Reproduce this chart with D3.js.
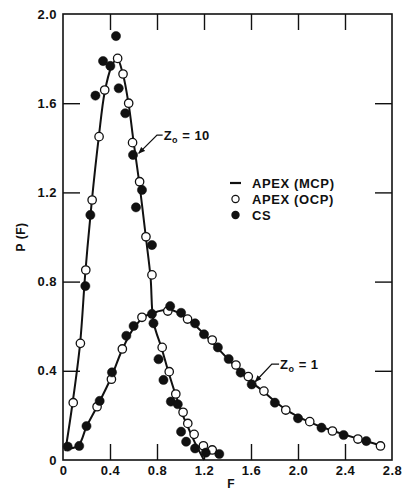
<!DOCTYPE html>
<html>
<head>
<meta charset="utf-8">
<script src="https://cdn.jsdelivr.net/npm/d3@7"></script>
<style>
  html, body { margin: 0; padding: 0; background: #fff; }
  svg { display: block; }
  text { font-family: "Liberation Sans", Arial, sans-serif; font-weight: bold; fill: #111; }
</style>
</head>
<body>
<div id="chart"></div>
<script>
// P(F) distributions

const xTicks = [0, 0.4, 0.8, 1.2, 1.6, 2.0, 2.4, 2.8];
const xTickLabels = ['0', '0.4', '0.8', '1.2', '1.6', '2.0', '2.4', '2.8'];
const yTicks = [0, 0.4, 0.8, 1.2, 1.6, 2.0];
const yTickLabels = ['0', '0.4', '0.8', '1.2', '1.6', '2.0'];

// Zo = 10
const z10Mcp = [[0.02, 0.04], [0.08, 0.25], [0.145, 0.52], [0.19, 0.84], [0.245, 1.16], [0.305, 1.45],
  [0.355, 1.65], [0.41, 1.76], [0.46, 1.80], [0.51, 1.73], [0.56, 1.59], [0.6, 1.43], [0.65, 1.24],
  [0.705, 1.0], [0.745, 0.82], [0.77, 0.62], [0.84, 0.5], [0.9, 0.39], [0.96, 0.29], [1.02, 0.2],
  [1.07, 0.14], [1.13, 0.07], [1.2, 0.0]];
const z10Ocp = [[0.087, 0.257], [0.148, 0.523], [0.194, 0.852], [0.248, 1.166], [0.307, 1.45],
  [0.355, 1.659], [0.465, 1.801], [0.511, 1.731], [0.559, 1.6], [0.592, 1.423], [0.652, 1.248],
  [0.706, 1.001], [0.757, 0.83], [0.844, 0.505], [0.904, 0.396], [0.96, 0.296], [1.022, 0.214],
  [1.062, 0.164], [1.116, 0.115], [1.195, 0.064], [1.27, 0.045]];
const z10Cs = [[0.04, 0.06], [0.19, 0.78], [0.233, 1.099], [0.276, 1.634], [0.341, 1.789],
  [0.403, 1.767], [0.451, 1.901], [0.474, 1.667], [0.53, 1.555], [0.596, 1.368], [0.621, 1.133],
  [0.672, 1.211], [0.757, 0.964], [0.77, 0.613], [0.813, 0.452], [0.855, 0.359], [0.918, 0.262],
  [0.977, 0.25], [1.005, 0.127], [1.048, 0.082], [1.124, 0.052], [1.215, 0.033], [1.33, 0.027]];

// Zo = 1
const z1Mcp = [[0.03, 0.05], [0.13, 0.065], [0.2, 0.15], [0.29, 0.24], [0.41, 0.37], [0.5, 0.49],
  [0.6, 0.59], [0.7, 0.645], [0.8, 0.665], [0.9, 0.675], [1.0, 0.655], [1.1, 0.615], [1.2, 0.565],
  [1.3, 0.51], [1.4, 0.455], [1.5, 0.4], [1.6, 0.35], [1.7, 0.31], [1.8, 0.265], [1.9, 0.225],
  [2.0, 0.195], [2.1, 0.17], [2.2, 0.148], [2.3, 0.13], [2.4, 0.113], [2.5, 0.097], [2.6, 0.082],
  [2.7, 0.065]];
const z1Ocp = [[0.29, 0.239], [0.412, 0.362], [0.505, 0.498], [0.672, 0.64], [0.892, 0.668],
  [1.06, 0.632], [1.27, 0.538], [1.472, 0.426], [1.577, 0.374], [1.71, 0.309], [1.896, 0.224],
  [2.1, 0.172], [2.293, 0.13], [2.51, 0.094], [2.702, 0.063]];
const z1Cs = [[0.138, 0.063], [0.2, 0.152], [0.312, 0.265], [0.417, 0.393], [0.539, 0.557],
  [0.601, 0.601], [0.757, 0.655], [0.912, 0.69], [1.005, 0.66], [1.124, 0.613], [1.2, 0.564],
  [1.318, 0.505], [1.41, 0.453], [1.512, 0.392], [1.606, 0.339], [1.803, 0.257], [2.0, 0.187],
  [2.2, 0.145], [2.388, 0.112], [2.581, 0.085]];

const legendLabels = ['APEX (MCP)', 'APEX (OCP)', 'CS'];

// annotation leaders, in data units: tip on curve, elbow, end
const z10Leader = [[0.644, 1.375], [0.80, 1.457], [0.848, 1.457]];
const z1Leader = [[1.636, 0.351], [1.777, 0.43], [1.839, 0.43]];

const width = 403, height = 492;
const svg = d3.select('#chart').append('svg')
  .attr('width', width)
  .attr('height', height);

const x = d3.scaleLinear().domain([0, 2.8]).range([63, 392]);
const y = d3.scaleLinear().domain([0, 2.0]).range([460, 14]);

// frame
svg.append('rect')
  .attr('x', x(0)).attr('y', y(2.0))
  .attr('width', x(2.8) - x(0)).attr('height', y(0) - y(2.0))
  .attr('fill', 'none').attr('stroke', '#111').attr('stroke-width', 1.6);

// axes, ticks pointing inward
const axBottom = svg.append('g').attr('transform', `translate(0,${y(0)})`)
  .call(d3.axisBottom(x).tickValues(xTicks).tickSize(0).tickPadding(6)
    .tickFormat((d, i) => xTickLabels[i]));
axBottom.selectAll('.tick').filter(d => d > 0 && d < 2.8).append('line')
  .attr('y2', -16);

const axTop = svg.append('g').attr('transform', `translate(0,${y(2.0)})`)
  .call(d3.axisTop(x).tickValues(xTicks.filter(d => d > 0 && d < 2.8)).tickSize(-16).tickFormat(''));

const axLeft = svg.append('g').attr('transform', `translate(${x(0)},0)`)
  .call(d3.axisLeft(y).tickValues(yTicks).tickSize(0).tickPadding(6)
    .tickFormat((d, i) => yTickLabels[i]));
axLeft.selectAll('.tick').filter(d => d > 0 && d < 2.0).append('line')
  .attr('x2', 17);

const axRight = svg.append('g').attr('transform', `translate(${x(2.8)},0)`)
  .call(d3.axisRight(y).tickValues(yTicks.filter(d => d > 0 && d < 2.0)).tickSize(-17).tickFormat(''));

[axBottom, axTop, axLeft, axRight].forEach(g => {
  g.select('.domain').remove();
  g.selectAll('line').attr('stroke', '#111').attr('stroke-width', 1.4);
  g.selectAll('text')
    .attr('font-family', '"Liberation Sans", Arial, sans-serif')
    .attr('font-size', 13)
    .attr('font-weight', 'bold')
    .attr('letter-spacing', '0.5px')
    .attr('fill', '#111');
});

// axis titles
svg.append('text')
  .attr('transform', `translate(25,237) rotate(-90)`)
  .attr('text-anchor', 'middle')
  .attr('font-size', 12)
  .attr('letter-spacing', '0.5px')
  .text('P (F)');

svg.append('text')
  .attr('x', 231).attr('y', 488)
  .attr('text-anchor', 'middle')
  .attr('font-size', 12)
  .text('F');

// curves
const line = d3.line()
  .x(d => x(d[0]))
  .y(d => y(d[1]))
  .curve(d3.curveCatmullRom.alpha(0.5));

[z10Mcp, z1Mcp].forEach(data => {
  svg.append('path')
    .datum(data)
    .attr('d', line)
    .attr('fill', 'none')
    .attr('stroke', '#111')
    .attr('stroke-width', 2);
});

// markers
function drawPoints(data, filled) {
  svg.append('g')
    .selectAll('circle')
    .data(data)
    .enter().append('circle')
    .attr('cx', d => x(d[0]))
    .attr('cy', d => y(d[1]))
    .attr('r', filled ? 4.6 : 4.2)
    .attr('fill', filled ? '#111' : '#fff')
    .attr('stroke', '#111')
    .attr('stroke-width', filled ? 0.5 : 1.3);
}
drawPoints(z10Ocp, false);
drawPoints(z1Ocp, false);
drawPoints(z10Cs, true);
drawPoints(z1Cs, true);

// annotation leaders with arrowheads
svg.append('defs').append('marker')
  .attr('id', 'arrow')
  .attr('viewBox', '0 0 10 10')
  .attr('refX', 9).attr('refY', 5)
  .attr('markerWidth', 7).attr('markerHeight', 7)
  .attr('markerUnits', 'userSpaceOnUse')
  .attr('orient', 'auto')
  .append('path')
  .attr('d', 'M0,1 L10,5 L0,9 Z')
  .attr('fill', '#111');

function leader(pts, label) {
  const path = d3.line().x(d => x(d[0])).y(d => y(d[1]));
  svg.append('path')
    .datum(pts.slice().reverse())
    .attr('d', path)
    .attr('fill', 'none')
    .attr('stroke', '#111')
    .attr('stroke-width', 1.3)
    .attr('marker-end', 'url(#arrow)');
  const end = pts[pts.length - 1];
  const t = svg.append('text')
    .attr('x', x(end[0]) + 1)
    .attr('y', y(end[1]) + 5)
    .attr('font-size', 13)
    .attr('letter-spacing', '0.5px');
  t.append('tspan').text('Z');
  t.append('tspan').attr('font-size', 9).attr('dy', 3).text('o');
  t.append('tspan').attr('dy', -3).text(' = ' + label);
}
leader(z10Leader, '10');
leader(z1Leader, '1');

// legend
const legend = svg.append('g');
const legendY = [183, 199, 215];
legend.append('line')
  .attr('x1', 230).attr('x2', 241)
  .attr('y1', legendY[0]).attr('y2', legendY[0])
  .attr('stroke', '#111').attr('stroke-width', 2.2);
legend.append('circle')
  .attr('cx', 235.5).attr('cy', legendY[1]).attr('r', 3.6)
  .attr('fill', '#fff').attr('stroke', '#111').attr('stroke-width', 1.2);
legend.append('circle')
  .attr('cx', 235.5).attr('cy', legendY[2]).attr('r', 4.2)
  .attr('fill', '#111');
legend.selectAll('text.lab')
  .data(legendLabels)
  .enter().append('text')
  .attr('class', 'lab')
  .attr('x', 252)
  .attr('y', (d, i) => legendY[i] + 4.5)
  .attr('font-size', 13)
  .attr('letter-spacing', '0.6px')
  .text(d => d);
</script>
</body>
</html>
